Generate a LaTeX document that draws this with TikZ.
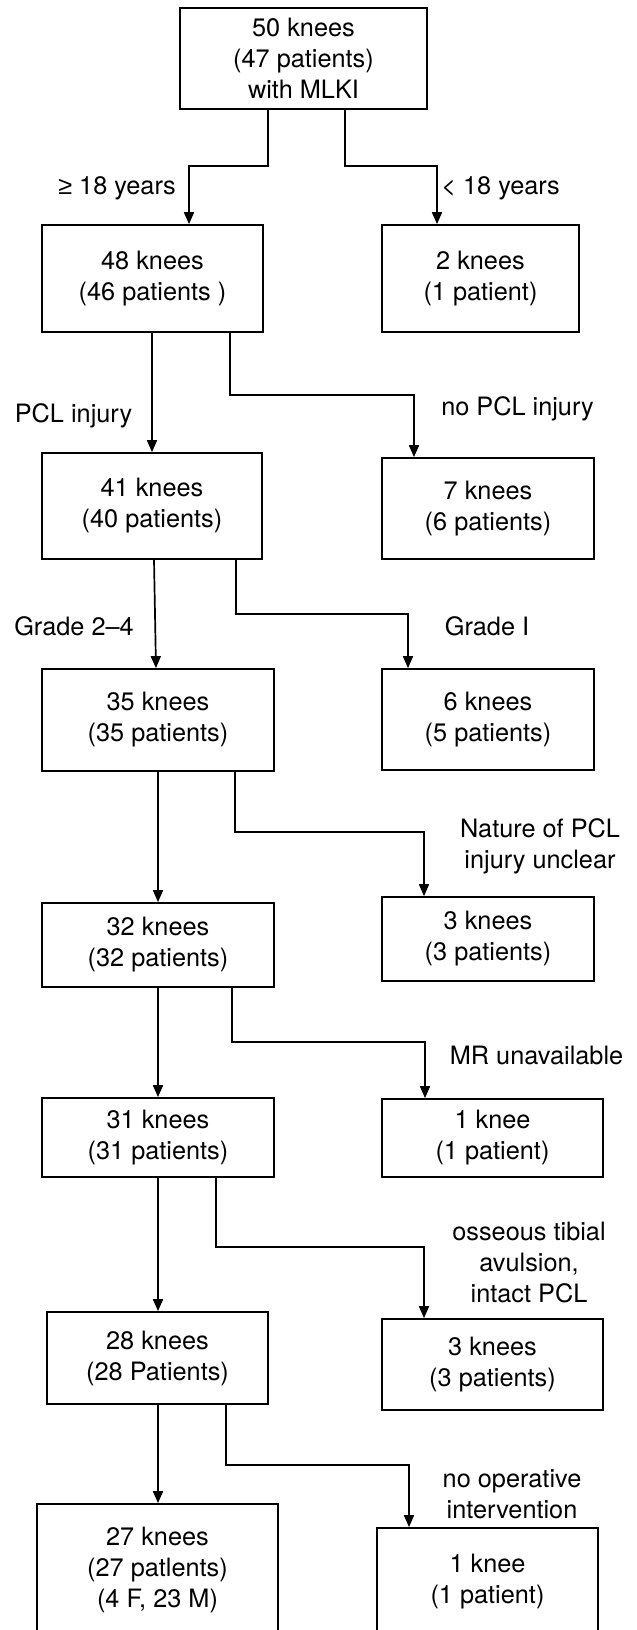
\documentclass[tikz,border=0pt]{standalone}
\usepackage{fontspec}
\setmainfont{TeX Gyre Heros}
\newfontfamily\symfont{Liberation Sans}
\usetikzlibrary{arrows.meta}
\begin{document}
\begin{tikzpicture}[x=1pt,y=-1pt,
  font=\fontsize{25.3}{31}\selectfont,
  box/.style={draw,line width=1.7pt,align=center,inner sep=0pt,
    execute at begin node={\rule{0pt}{30pt}}},
  conn/.style={line width=1.7pt,-{Triangle[width=10pt,length=12pt]}},
  lbl/.style={align=center,inner sep=0pt}]
\useasboundingbox (0,0) rectangle (637,1630);
\fill[white] (0,0) rectangle (637,1630);
\clip (0,0) rectangle (637,1630);

% boxes
\node[box,minimum width=247pt,minimum height=101pt] (top) at (303.5,58.5) {50 knees\\(47 patients)\\with MLKI};
\node[box,minimum width=221pt,minimum height=107pt] (b48) at (152.5,278.5) {48 knees\\(46 patients )};
\node[box,minimum width=197pt,minimum height=107pt] (b2) at (480.5,278.5) {2 knees\\(1 patient)};
\node[box,minimum width=220pt,minimum height=106pt] (b41) at (152,506) {41 knees\\(40 patients)};
\node[box,minimum width=212pt,minimum height=101pt] (b7) at (488,508.5) {7 knees\\(6 patients)};
\node[box,minimum width=232pt,minimum height=102pt] (b35) at (158,720) {35 knees\\(35 patients)};
\node[box,minimum width=212pt,minimum height=101pt] (b6) at (488,719.5) {6 knees\\(5 patients)};
\node[box,minimum width=232pt,minimum height=84pt] (b32) at (158,945) {32 knees\\(32 patients)};
\node[box,minimum width=212pt,minimum height=84pt] (b3a) at (488,939) {3 knees\\(3 patients)};
\node[box,minimum width=232pt,minimum height=79pt] (b31) at (158,1137.5) {31 knees\\(31 patients)};
\node[box,minimum width=221pt,minimum height=78pt] (b1a) at (492.5,1138) {1 knee\\(1 patient)};
\node[box,minimum width=221pt,minimum height=92pt] (b28) at (157.5,1358) {28 knees\\(28 Patients)};
\node[box,minimum width=221pt,minimum height=91pt] (b3b) at (492.5,1364.5) {3 knees\\(3 patients)};
\node[box,minimum width=241pt,minimum height=132pt] (b27) at (157.5,1570) {27 knees\\(27 patlents)\\(4 F, 23 M)};
\node[box,minimum width=221pt,minimum height=107pt] (b1b) at (487.5,1581.5) {1 knee\\(1 patient)};

% labels
\node[lbl,anchor=base] (lge) at (117,194) {{\symfont ≥} 18 years};
\node[lbl,anchor=base] (llt) at (500.5,194) {< 18 years};
\node[lbl,anchor=base] (lpcl) at (73.5,422) {PCL injury};
\node[lbl,anchor=base] (lnopcl) at (517.5,415) {no PCL injury};
\node[lbl,anchor=base] (lg24) at (74,635) {Grade 2–4};
\node[lbl,anchor=base] (lgI) at (487,635) {Grade I};
\node[lbl] (lnat) at (540,846) {Nature of PCL\\injury unclear};
\node[lbl,anchor=base] (lmr) at (536.5,1064) {MR unavailable};
\node[lbl] (loss) at (529,1262.5) {osseous tibial\\avulsion,\\intact PCL};
\node[lbl] (lnoop) at (512,1494) {no operative\\intervention};

% connectors
\draw[conn] (268,0 |- top.south) |- (189,166) -- (189,0 |- b48.north);
\draw[conn] (345,0 |- top.south) |- (437,166) -- (437,0 |- b2.north);
\draw[conn] (152,0 |- b48.south) -- (152,0 |- b41.north);
\draw[conn] (230,0 |- b48.south) |- (414,395) -- (414,0 |- b7.north);
\draw[conn] (154,0 |- b41.south) -- (156,0 |- b35.north);
\draw[conn] (236,0 |- b41.south) |- (408,614) -- (408,0 |- b6.north);
\draw[conn] (158,0 |- b35.south) -- (158,0 |- b32.north);
\draw[conn] (235,0 |- b35.south) |- (424,832) -- (424,0 |- b3a.north);
\draw[conn] (158,0 |- b32.south) -- (158,0 |- b31.north);
\draw[conn] (232,0 |- b32.south) |- (425,1042) -- (425,0 |- b1a.north);
\draw[conn] (158,0 |- b31.south) -- (158,0 |- b28.north);
\draw[conn] (216,0 |- b31.south) |- (424,1247) -- (424,0 |- b3b.north);
\draw[conn] (158,0 |- b28.south) -- (158,0 |- b27.north);
\draw[conn] (226,0 |- b28.south) |- (409,1465) -- (409,0 |- b1b.north);
\end{tikzpicture}
\end{document}
